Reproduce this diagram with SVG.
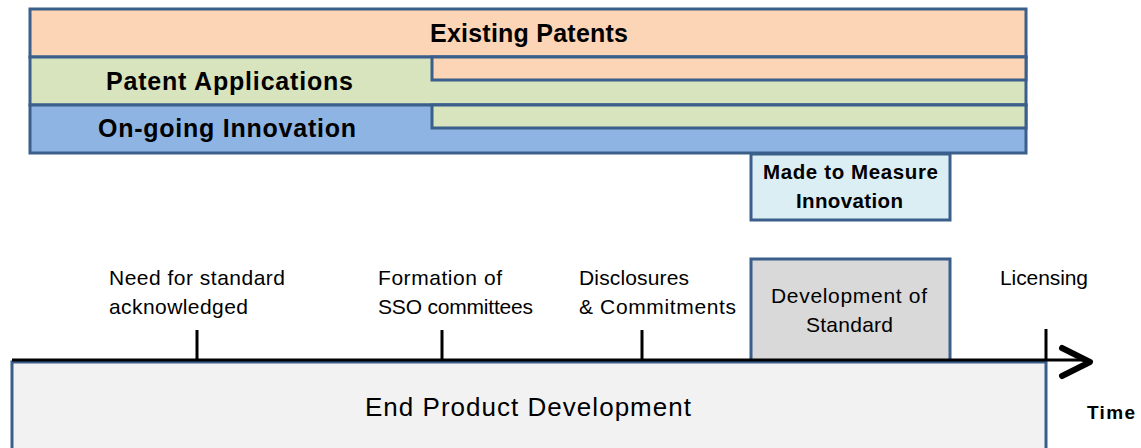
<svg xmlns="http://www.w3.org/2000/svg" width="1141" height="448" viewBox="0 0 1141 448">
<style>
.box{stroke:#3a5f8b;stroke-width:3}
.t{font-family:"Liberation Sans",Arial,sans-serif;fill:#000}
.b{font-weight:bold}
.lbl{font-size:21px}
.ttl{font-size:25px;font-weight:bold}
.tick{stroke:#000;stroke-width:3}
</style>
<rect width="1141" height="448" fill="#fff"/>
<g id="existing-patents">
<rect class="box" x="30" y="9" width="996" height="48" fill="#fbd5b5"/>
<text class="t ttl" x="430" y="42" textLength="198">Existing Patents</text>
</g>
<g id="patent-applications">
<rect class="box" x="30" y="57" width="996" height="48" fill="#d7e4bd"/>
<rect class="box" x="432" y="57" width="594" height="23" fill="#fbd5b5"/>
<text class="t ttl" x="106" y="90" textLength="247">Patent Applications</text>
</g>
<g id="ongoing-innovation">
<rect class="box" x="30" y="105" width="996" height="48" fill="#8eb4e3"/>
<rect class="box" x="432" y="105" width="594" height="23" fill="#d7e4bd"/>
<text class="t ttl" x="98" y="137" textLength="258">On-going Innovation</text>
</g>
<g id="made-to-measure">
<rect class="box" x="751" y="154" width="199" height="66" fill="#dbeef4"/>
<text class="t b" font-size="20.5" x="763" y="179" textLength="175">Made to Measure</text>
<text class="t b" font-size="20.5" x="796" y="208" textLength="107">Innovation</text>
</g>
<g id="development-of-standard">
<rect class="box" x="751" y="259" width="199" height="102" fill="#d9d9d9"/>
<text class="t lbl" x="771" y="303" textLength="156">Development of</text>
<text class="t lbl" x="806" y="332" textLength="87">Standard</text>
</g>
<g id="end-product-development">
<rect class="box" x="12" y="362" width="1034" height="92" fill="#f2f2f2"/>
<text class="t" font-size="26" x="365" y="416" textLength="326">End Product Development</text>
</g>
<g id="connectors">
<line x1="12" y1="360" x2="1088" y2="360" stroke="#000" stroke-width="3"/>
<polyline points="1062,348 1090,362 1062,376" fill="none" stroke="#000" stroke-width="6" stroke-linecap="round" stroke-linejoin="round"/>
<line class="tick" x1="197" y1="330" x2="197" y2="360"/>
<line class="tick" x1="442" y1="330" x2="442" y2="360"/>
<line class="tick" x1="642" y1="330" x2="642" y2="360"/>
<line class="tick" x1="1046" y1="329" x2="1046" y2="361"/>
</g>
<g id="labels">
<text class="t lbl" x="109" y="285" textLength="176">Need for standard</text>
<text class="t lbl" x="109" y="314" textLength="139">acknowledged</text>
<text class="t lbl" x="378" y="285" textLength="124">Formation of</text>
<text class="t lbl" x="378" y="314" textLength="155">SSO committees</text>
<text class="t lbl" x="579" y="285" textLength="110">Disclosures</text>
<text class="t lbl" x="579" y="314" textLength="157">&amp; Commitments</text>
<text class="t lbl" x="1000" y="285" textLength="88">Licensing</text>
<text class="t b" font-size="19" x="1087" y="419" textLength="48">Time</text>
</g>
</svg>
